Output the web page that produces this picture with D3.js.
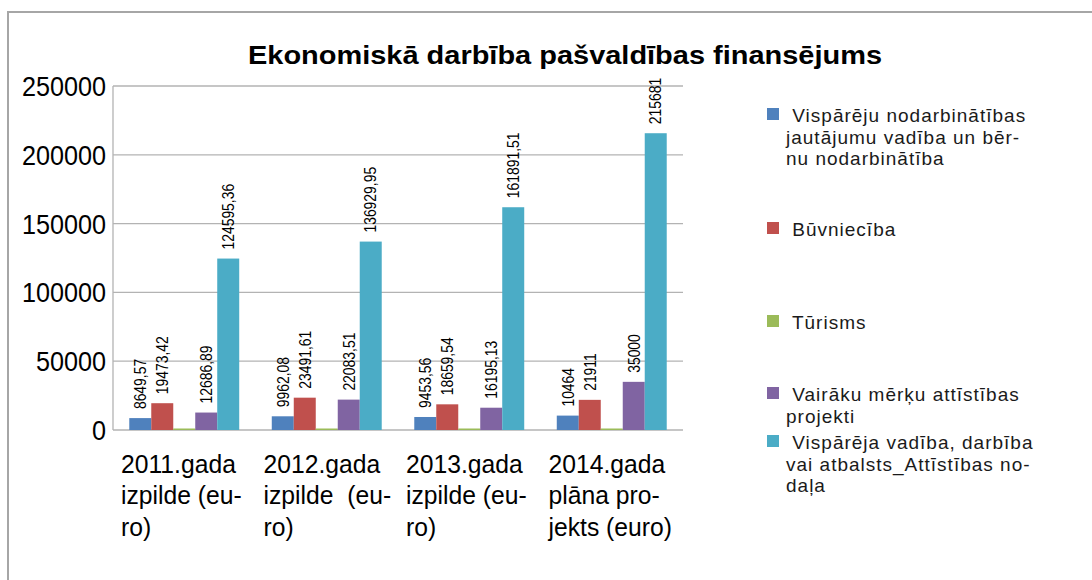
<!DOCTYPE html>
<html>
<head>
<meta charset="utf-8">
<script src="https://cdn.jsdelivr.net/npm/d3@7"></script>
<style>
  body { margin: 0; background: #fff; }
  text { font-family: "Liberation Sans", Arial, sans-serif; fill: #000; white-space: pre; }
</style>
</head>
<body>
<svg id="chart" width="1092" height="580"></svg>
<script>
// chart data
var categories = ['2011', '2012', '2013', '2014'];
var categoryLines = [
  ['2011.gada', 'izpilde (eu-', 'ro)'],
  ['2012.gada', 'izpilde  (eu-', 'ro)'],
  ['2013.gada', 'izpilde (eu-', 'ro)'],
  ['2014.gada', 'plāna pro-', 'jekts (euro)']
];
var seriesNames = [
  'Vispārēju nodarbinātības jautājumu vadība un bērnu nodarbinātība',
  'Būvniecība',
  'Tūrisms',
  'Vairāku mērķu attīstības projekti',
  'Vispārēja vadība, darbība vai atbalsts_Attīstības nodaļa'
];
var legendLines = [
  [' Vispārēju nodarbinātības', 'jautājumu vadība un bēr-', 'nu nodarbinātība'],
  [' Būvniecība'],
  [' Tūrisms'],
  [' Vairāku mērķu attīstības', 'projekti'],
  [' Vispārēja vadība, darbība', 'vai atbalsts_Attīstības no-', 'daļa']
];
var nodarbinatiba = [8649.57, 9962.08, 9453.56, 10464];
var buvnieciba = [19473.42, 23491.61, 18659.54, 21911];
var turisms = [0, 0, 0, 0];
var attistibasProjekti = [12686.89, 22083.51, 16195.13, 35000];
var vadiba = [124595.36, 136929.95, 161891.51, 215681];
var seriesValues = [nodarbinatiba, buvnieciba, turisms, attistibasProjekti, vadiba];
var seriesLabelled = [true, true, false, true, true];
var colors = ['#4f81bd', '#c0504d', '#9bbb59', '#8064a2', '#4bacc6'];
var yTicks = [0, 50000, 100000, 150000, 200000, 250000];

var svg = d3.select('#chart');
var plot = {left: 113, right: 683, top: 86, bottom: 430};

// outer frame
svg.append('rect')
  .attr('x', 8).attr('y', 12).attr('width', 1200).attr('height', 700)
  .attr('fill', 'none').attr('stroke', '#a6a6a6').attr('stroke-width', 2);

svg.append('text')
  .attr('x', 248).attr('y', 64)
  .attr('textLength', 634).attr('lengthAdjust', 'spacingAndGlyphs')
  .style('font-size', '25px').style('font-weight', 'bold')
  .text('Ekonomiskā darbība pašvaldības finansējums');

var y = d3.scaleLinear().domain([0, 250000]).range([plot.bottom, plot.top]);
var x0 = d3.scaleBand().domain(categories).range([plot.left, plot.right]).padding(0);
var x1 = d3.scaleBand().domain(d3.range(seriesValues.length))
  .range([0, x0.bandwidth()]).paddingInner(0).paddingOuter(0.74);

// gridlines + axis
svg.append('g').selectAll('line').data(yTicks).enter().append('line')
  .attr('x1', plot.left).attr('x2', plot.right)
  .attr('y1', function(d) { return y(d); }).attr('y2', function(d) { return y(d); })
  .attr('stroke', '#b3b3b3').attr('stroke-width', 1.3);
svg.append('line')
  .attr('x1', plot.left).attr('x2', plot.left)
  .attr('y1', plot.top).attr('y2', plot.bottom)
  .attr('stroke', '#b3b3b3').attr('stroke-width', 1.3);

svg.append('g').selectAll('g').data(yTicks).enter().append('g')
  .attr('transform', function(d) { return 'translate(106,' + y(d) + ') scale(0.9,1)'; })
  .append('text')
  .attr('text-anchor', 'end').attr('dy', '0.36em')
  .style('font-size', '28px')
  .text(function(d) { return d; });

// bars
var fmt = function(v) {
  return Number.isInteger(v) ? String(v) : v.toFixed(2).replace('.', ',');
};
seriesValues.forEach(function(values, s) {
  var g = svg.append('g').attr('class', 'series');
  g.selectAll('rect').data(values).enter().append('rect')
    .attr('x', function(d, i) { return x0(categories[i]) + x1(s); })
    .attr('width', x1.bandwidth())
    .attr('y', function(d) { return Math.min(y(d), plot.bottom - 1.5); })
    .attr('height', function(d) { return Math.max(plot.bottom - y(d), 1.5); })
    .attr('fill', colors[s]);
  if (!seriesLabelled[s]) return;
  g.selectAll('g').data(values).enter().append('g')
    .attr('transform', function(d, i) {
      var cx = x0(categories[i]) + x1(s) + x1.bandwidth() / 2;
      return 'translate(' + cx + ',' + (y(d) - 9) + ') rotate(-90) scale(0.87,1)';
    })
    .append('text')
    .attr('dy', '0.36em')
    .style('font-size', '16px')
    .text(function(d) { return fmt(d); });
});

// category labels
categories.forEach(function(c, i) {
  var g = svg.append('g')
    .attr('transform', 'translate(' + (x0(c) + 8) + ',473) scale(0.95,1)');
  g.selectAll('text').data(categoryLines[i]).enter().append('text')
    .attr('y', function(d, k) { return k * 31.5; })
    .style('font-size', '26px')
    .text(function(d) { return d; });
});

// legend
var legendTop = [122, 236, 329, 401, 449];
seriesNames.forEach(function(name, s) {
  var g = svg.append('g').attr('class', 'legend-item');
  g.append('rect')
    .attr('x', 767).attr('y', legendTop[s] - 14)
    .attr('width', 12).attr('height', 12)
    .attr('fill', colors[s]);
  g.selectAll('text').data(legendLines[s]).enter().append('text')
    .attr('x', 786)
    .attr('y', function(d, k) { return legendTop[s] + k * 21.5; })
    .style('font-size', '19px').style('letter-spacing', '1px')
    .style('fill', '#1a1a1a')
    .text(function(d) { return d; });
});
</script>
</body>
</html>
